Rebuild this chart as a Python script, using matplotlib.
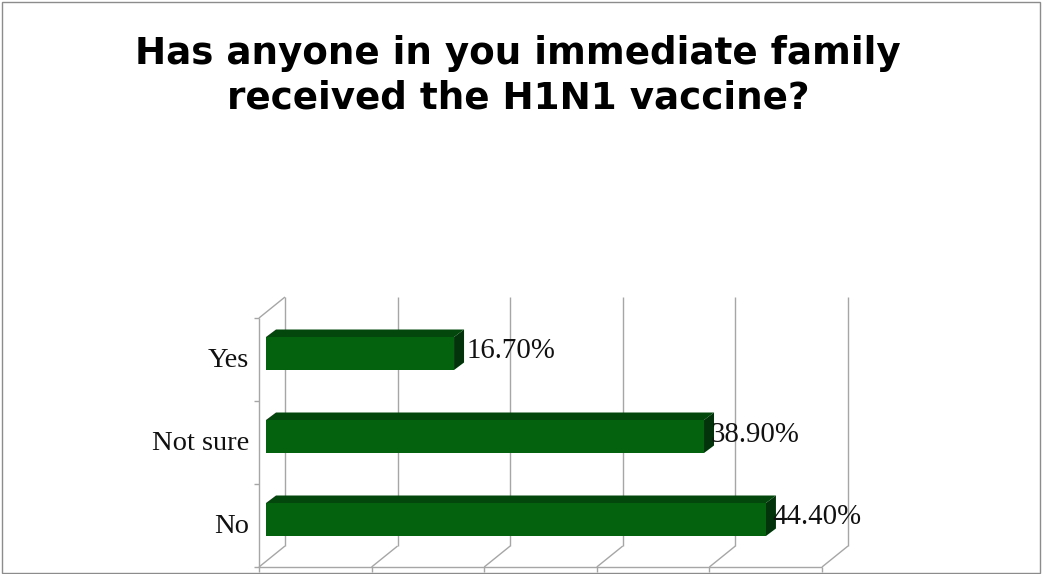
import matplotlib
matplotlib.use("Agg")
import matplotlib.pyplot as plt
from matplotlib.patches import Polygon, Rectangle

# Data
categories = ["No", "Not sure", "Yes"]
values = [44.4, 38.9, 16.7]
value_labels = ["44.40%", "38.90%", "16.70%"]
x_ticks = [0, 10, 20, 30, 40, 50]
title = "Has anyone in you immediate family\nreceived the H1N1 vaccine?"

# Gap between bar end and its label, in px (not even in the original)
label_gap = [6, 6, 12]

# Figure size in pixels, used to place the axes
W, H = 1042, 574
fig = plt.figure(figsize=(W / 100, H / 100), dpi=100)
fig.patch.set_facecolor("white")

# Front plane of the fake 3D box: 259..822 px across, 318..567 px down
ax = fig.add_axes([259 / W, 1 - 567 / H, 563 / W, 249 / H])
ax.set_xlim(0, 50)
ax.set_ylim(0, 3)
ax.axis("off")

# Pixel sizes converted to data units
px_x = 50 / 563
px_y = 3 / 249
wall_dx = 26 * px_x
wall_dy = 21 * px_y
wall_top = 3 + 21 * px_y
bar_shift_x = 7 * px_x
bar_shift_y = 6 * px_y
bar_h = 33 * px_y
depth_dx = 10 * px_x
depth_dy = 7.5 * px_y

grid_col = "#a6a6a6"
front_col = "#04620f"
top_col = "#03470c"
side_col = "#02330a"
lw = 1.0


def line(xs, ys, z=1):
    ax.plot(xs, ys, color=grid_col, lw=lw, clip_on=False, zorder=z,
            solid_capstyle="butt")


# Wall gridlines and floor diagonals
for t in x_ticks:
    line([t + wall_dx, t + wall_dx], [wall_dy, wall_top])
    line([t, t + wall_dx], [0, wall_dy])
    line([t, t], [0, -5 * px_y])

# Floor front line, left wall line and category ticks
line([0, 50], [0, 0])
line([0, 0], [0, 3])
line([0, wall_dx], [3, wall_top])
for i in range(4):
    line([-5 * px_x, 0], [i, i])

# Bars with a top and a side face
for i, (val, lab) in enumerate(zip(values, value_labels)):
    x0 = bar_shift_x
    x1 = bar_shift_x + val
    y0 = i + 0.5 + bar_shift_y - bar_h / 2
    y1 = y0 + bar_h
    ax.add_patch(Polygon([(x0, y1), (x1, y1), (x1 + depth_dx, y1 + depth_dy),
                          (x0 + depth_dx, y1 + depth_dy)], closed=True,
                         fc=top_col, ec="none", zorder=3, clip_on=False))
    ax.add_patch(Polygon([(x1, y0), (x1 + depth_dx, y0 + depth_dy),
                          (x1 + depth_dx, y1 + depth_dy), (x1, y1)], closed=True,
                         fc=side_col, ec="none", zorder=3, clip_on=False))
    ax.add_patch(Rectangle((x0, y0), val, bar_h, fc=front_col, ec="none",
                           zorder=3, clip_on=False))
    ax.text(x1 + label_gap[i] * px_x, i + 0.5 + bar_shift_y + 2 * px_y, lab,
            family="Liberation Serif", fontsize=20.8, color="#111111",
            ha="left", va="center", zorder=4)
    ax.text(-10 * px_x, i + 0.5 - 1 * px_y, categories[i],
            family="Liberation Serif", fontsize=20.5, color="#111111",
            ha="right", va="center", zorder=4)

fig.text(518 / W, 1 - 76 / H, title, family="DejaVu Sans", fontweight="bold",
         fontsize=26.8, color="black", ha="center", va="center", linespacing=1.27)

# Chart border
fig.add_artist(Rectangle((1.5 / W, 1 - 572.5 / H), 1038 / W, 571 / H, fill=False,
                         ec="#8c8c8c", lw=1.0, transform=fig.transFigure))

fig.savefig("out.png", dpi=100)
